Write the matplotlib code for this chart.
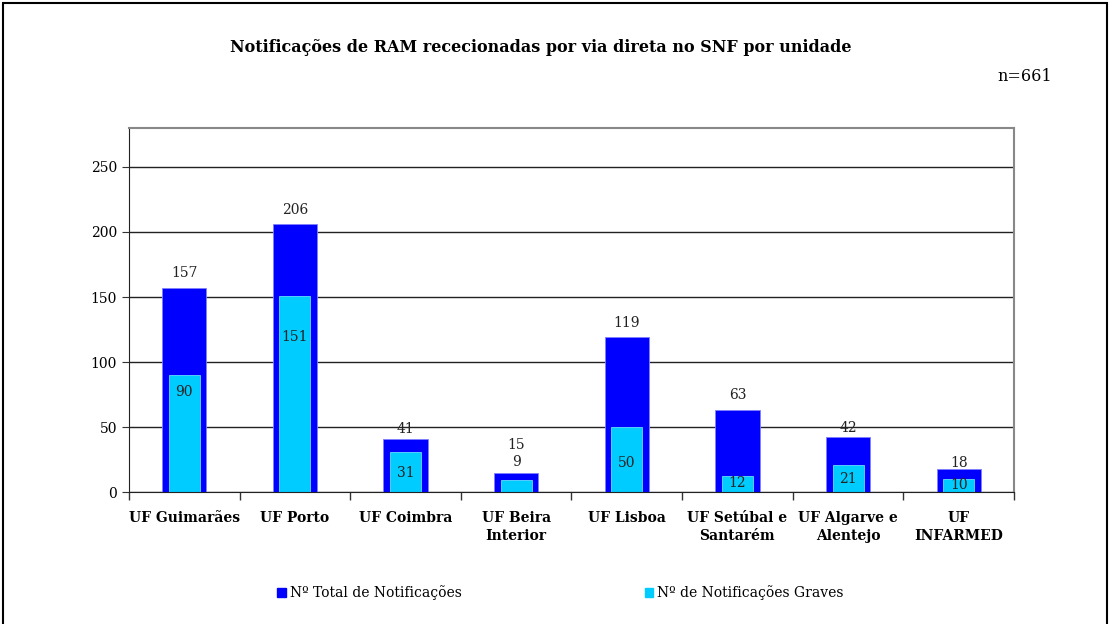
import matplotlib
matplotlib.use("Agg")
import matplotlib.pyplot as plt
from matplotlib.patches import Rectangle, Patch
import numpy as np

plt.rcParams['font.family'] = ['DejaVu Serif', 'Liberation Serif']

unidades = ['UF Guimarães', 'UF Porto', 'UF Coimbra', 'UF Beira\nInterior', 'UF Lisboa',
            'UF Setúbal e\nSantarém', 'UF Algarve e\nAlentejo', 'UF\nINFARMED']
total = [157, 206, 41, 15, 119, 63, 42, 18]
graves = [90, 151, 31, 9, 50, 12, 21, 10]

# label offsets in points (Excel placed them a bit at random)
off_total = [11, 10, 7, 20, 10, 11, 7, 4]
off_graves = [-12, -30, -15, 13, -26, -5, -10, -4]

AZUL = '#0000FF'
CIANO = '#00CCFF'

fig = plt.figure(figsize=(11.1, 6.24), dpi=100)
ax = fig.add_axes([0.1162, 0.2115, 0.7973, 0.5834])

x = np.arange(len(unidades))
ax.bar(x, total, width=0.4, color=AZUL, edgecolor='#8080ff', linewidth=0.6, zorder=3)
ax.bar(x, graves, width=0.28, color=CIANO, edgecolor='#66ddff', linewidth=0.6, zorder=4)

for i in range(len(x)):
    ax.annotate(str(total[i]), (x[i], total[i]), xytext=(0, off_total[i]), textcoords='offset points',
                ha='center', va='center', fontsize=10, color='#222222', zorder=6)
    ax.annotate(str(graves[i]), (x[i], graves[i]), xytext=(0, off_graves[i]), textcoords='offset points',
                ha='center', va='center', fontsize=10, color='#222222', zorder=6)

ax.set_xlim(-0.5, len(unidades) - 0.5)
ax.set_ylim(0, 280)
ax.set_yticks(range(0, 251, 50))
ax.yaxis.grid(True, color='#222222', linewidth=1)
ax.set_axisbelow(True)

ax.set_xticks(np.arange(-0.5, len(unidades), 1))
ax.set_xticklabels([])
ax.set_xticks(x, minor=True)
ax.set_xticklabels(unidades, minor=True, fontweight='bold', fontsize=10, linespacing=1.3)
ax.tick_params(axis='x', which='major', length=6, color='#333333', width=1)
ax.tick_params(axis='x', which='minor', length=0, pad=14)
ax.tick_params(axis='y', length=5, labelsize=10, color='#333333')

ax.spines['top'].set_color('#888888')
ax.spines['right'].set_color('#888888')
ax.spines['right'].set_linewidth(1.5)
ax.spines['top'].set_linewidth(1.5)
ax.spines['left'].set_color('#222222')
ax.spines['bottom'].set_color('#222222')
ax.spines['bottom'].set_zorder(5)

fig.text(0.487, 0.924, 'Notificações de RAM rececionadas por via direta no SNF por unidade',
         ha='center', va='center', fontsize=11.5, fontweight='bold')
fig.text(0.948, 0.878, 'n=661', ha='right', va='center', fontsize=11.5)

handles = [Patch(color=AZUL, label='Nº Total de Notificações'),
           Patch(color=CIANO, label='Nº de Notificações Graves')]
fig.legend(handles=handles, loc='center', bbox_to_anchor=(0.505, 0.05), ncol=2, frameon=False,
           fontsize=10, handlelength=0.6, handleheight=0.6, handletextpad=0.3, columnspacing=13.2)

fig.patches.append(Rectangle((0.003, -0.05), 0.994, 1.045, transform=fig.transFigure,
                             fill=False, edgecolor='black', linewidth=1.5))

fig.savefig('out.png', dpi=100)
